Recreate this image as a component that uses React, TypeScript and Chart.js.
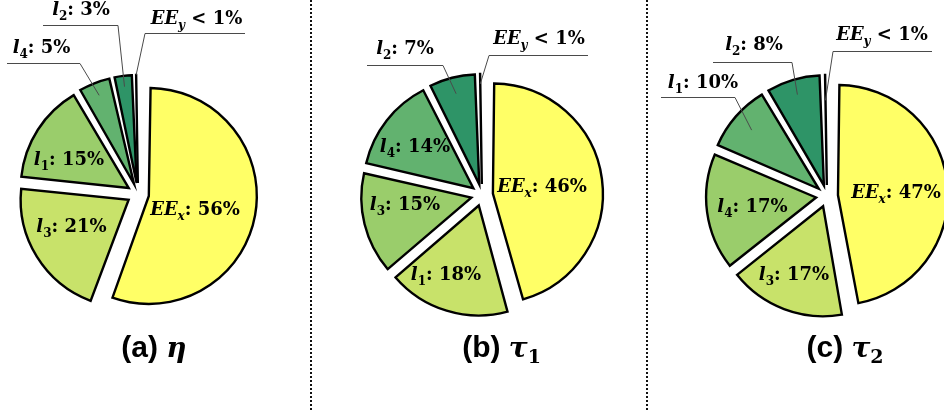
import React, { useEffect, useRef } from 'react';
import { Chart, registerables } from 'chart.js';

Chart.register(...registerables);

// ---------- data ----------
const etaNames = ['EE_x', 'l_3', 'l_1', 'l_4', 'l_2', 'EE_y'];
const etaValues = [56, 21, 15, 5, 3, 0.5];

const tau1Names = ['EE_x', 'l_1', 'l_3', 'l_4', 'l_2', 'EE_y'];
const tau1Values = [46, 18, 15, 14, 7, 0.5];

const tau2Names = ['EE_x', 'l_3', 'l_4', 'l_1', 'l_2', 'EE_y'];
const tau2Values = [47, 17, 17, 10, 8, 0.5];

const captionPrefix = ['(a) ', '(b) ', '(c) '];
const captionSymbol = ['η', 'τ', 'τ'];
const captionSub = ['', '1', '2'];

// ---------- styles / layout ----------
const W = 944;
const H = 410;
const sliceColors = ['#FFFF66', '#C8E26A', '#9ACD6B', '#62B26F', '#2E9467', '#050505'];
const EXPLODE = 11; // px translation of each slice
const SERIF = "'DejaVu Serif', serif";
const SANS = "'Liberation Sans', Arial, sans-serif";
const separatorsX = [311, 647];

type LabelSpec = {
  i: number; dx: number; dy: number;
  ux?: [number, number]; uy?: number; from?: 'left' | 'right'; frac?: number;
};

type Panel = {
  names: string[]; values: number[]; cx: number; cy: number; r: number;
  capX: number; labels: LabelSpec[];
};

const panels: Panel[] = [
  {
    names: etaNames, values: etaValues, cx: 138, cy: 194, r: 108, capX: 154,
    labels: [
      { i: 0, dx: 57, dy: 21 },
      { i: 1, dx: -66.5, dy: 38 },
      { i: 2, dx: -69, dy: -29 },
      { i: 3, dx: -96.5, dy: -141, ux: [-131, -58], uy: -130.5, from: 'right', frac: 0.88 },
      { i: 4, dx: -57, dy: -179, ux: [-95, -20], uy: -168.5, from: 'right', frac: 0.9 },
      { i: 5, dx: 58.5, dy: -170, ux: [7, 107], uy: -160.5, from: 'left', frac: 1.0 },
    ],
  },
  {
    names: tau1Names, values: tau1Values, cx: 482, cy: 195, r: 110, capX: 501.5,
    labels: [
      { i: 0, dx: 60, dy: -3 },
      { i: 1, dx: -36, dy: 85 },
      { i: 2, dx: -77, dy: 15 },
      { i: 3, dx: -67, dy: -43 },
      { i: 4, dx: -77, dy: -141, ux: [-115, -39], uy: -129.5, from: 'right', frac: 0.85 },
      { i: 5, dx: 57, dy: -151, ux: [7, 106], uy: -139.5, from: 'left', frac: 0.91 },
    ],
  },
  {
    names: tau2Names, values: tau2Values, cx: 827, cy: 196, r: 110, capX: 845,
    labels: [
      { i: 0, dx: 69, dy: 2 },
      { i: 1, dx: -33, dy: 84 },
      { i: 2, dx: -74.5, dy: 16 },
      { i: 3, dx: -124, dy: -108.5, ux: [-166, -92], uy: -98.5, from: 'right', frac: 0.81 },
      { i: 4, dx: -73, dy: -146, ux: [-114, -35], uy: -133.5, from: 'right', frac: 0.86 },
      { i: 5, dx: 55, dy: -156, ux: [6, 105], uy: -144.5, from: 'left', frac: 0.77 },
    ],
  },
];

type Part = { t: string; font: string; dy?: number };

function drawRich(ctx: CanvasRenderingContext2D, parts: Part[], cx: number, baseline: number) {
  let w = 0;
  for (const p of parts) { ctx.font = p.font; w += ctx.measureText(p.t).width; }
  let x = cx - w / 2;
  ctx.textAlign = 'left';
  ctx.textBaseline = 'alphabetic';
  for (const p of parts) {
    ctx.font = p.font;
    ctx.fillText(p.t, x, baseline + (p.dy || 0));
    x += ctx.measureText(p.t).width;
  }
}

function labelParts(name: string, pct: number): Part[] {
  const [base, sub] = name.split('_');
  const isDigit = /^[0-9]+$/.test(sub);
  const rest = pct < 1 ? ' < 1%' : `: ${Math.round(pct)}%`;
  return [
    { t: base, font: `italic bold 18px ${SERIF}` },
    { t: sub, font: `${isDigit ? '' : 'italic '}bold 12px ${SERIF}`, dy: 5 },
    { t: rest, font: `bold 18px ${SERIF}` },
  ];
}

function makeOverlay(panel: Panel, idx: number) {
  return {
    id: 'overlay' + idx,
    beforeDatasetDraw(chart: any) {
      // keep each exploded slice at the same radius
      const meta = chart.getDatasetMeta(0);
      for (const el of meta.data as any[]) {
        const circ = el.circumference;
        const fix = 1 - Math.sin(Math.min(Math.PI, circ || 0));
        el.outerRadius = panel.r - EXPLODE * fix;
      }
    },
    afterDatasetsDraw(chart: any) {
      const ctx: CanvasRenderingContext2D = chart.ctx;
      const meta = chart.getDatasetMeta(0);
      const arcs = meta.data as any[];
      const cx = arcs[0].x;
      const cy = arcs[0].y;
      const total = panel.values.reduce((a, b) => a + b, 0);
      ctx.save();
      ctx.fillStyle = '#000';
      for (const L of panel.labels) {
        const pct = (panel.values[L.i] / total) * 100;
        drawRich(ctx, labelParts(panel.names[L.i], pct), cx + L.dx, cy + L.dy);
        if (L.ux && L.uy !== undefined) {
          const arc = arcs[L.i];
          const mid = (arc.startAngle + arc.endAngle) / 2;
          const rr = EXPLODE + (L.frac || 0.9) * panel.r;
          const ex = cx + Math.cos(mid) * rr;
          const ey = cy + Math.sin(mid) * rr;
          const sx = cx + (L.from === 'left' ? L.ux[0] : L.ux[1]);
          const sy = cy + L.uy;
          ctx.strokeStyle = '#4a4a4a';
          ctx.lineWidth = 1;
          ctx.beginPath();
          ctx.moveTo(cx + L.ux[0], sy);
          ctx.lineTo(cx + L.ux[1], sy);
          ctx.moveTo(sx, sy);
          ctx.lineTo(ex, ey);
          ctx.stroke();
        }
      }
      // caption
      const prefix = captionPrefix[idx];
      const parts: Part[] = [
        { t: prefix, font: `bold 30px ${SANS}` },
        { t: captionSymbol[idx], font: `italic bold 28px ${SERIF}` },
      ];
      if (captionSub[idx]) parts.push({ t: captionSub[idx], font: `bold 19px ${SERIF}`, dy: 6 });
      drawRich(ctx, parts, panel.capX, 357);
      // separators
      if (idx === 0) {
        ctx.strokeStyle = '#111';
        ctx.lineWidth = 2;
        ctx.setLineDash([2, 2]);
        for (const x of separatorsX) {
          ctx.beginPath();
          ctx.moveTo(x, 0);
          ctx.lineTo(x, H);
          ctx.stroke();
        }
        ctx.setLineDash([]);
      }
      ctx.restore();
    },
  };
}

function PieCanvas({ panel, idx }: { panel: Panel; idx: number }) {
  const ref = useRef<HTMLCanvasElement | null>(null);
  useEffect(() => {
    if (!ref.current) return;
    const half = 100;
    const chart = new Chart(ref.current, {
      type: 'pie',
      data: {
        labels: panel.names,
        datasets: [
          {
            data: panel.values,
            backgroundColor: sliceColors,
            borderColor: '#000',
            borderWidth: 2.4,
            borderJoinStyle: 'miter',
            offset: EXPLODE * 4,
            clip: false,
          } as any,
        ],
      },
      options: {
        responsive: false,
        animation: false,
        events: [],
        radius: panel.r,
        layout: {
          padding: {
            left: panel.cx - half,
            right: W - (panel.cx + half),
            top: panel.cy - half,
            bottom: H - (panel.cy + half),
          },
        },
        plugins: { legend: { display: false }, tooltip: { enabled: false } },
      } as any,
      plugins: [makeOverlay(panel, idx)],
    });
    return () => chart.destroy();
  }, [panel, idx]);
  return (
    <canvas
      ref={ref}
      width={W}
      height={H}
      style={{ position: 'absolute', left: 0, top: 0, width: W, height: H }}
    />
  );
}

export default function App() {
  return (
    <div style={{ position: 'fixed', left: 0, top: 0, width: W, height: H, background: '#fff', overflow: 'hidden' }}>
      {panels.map((p, i) => (
        <PieCanvas key={i} panel={p} idx={i} />
      ))}
    </div>
  );
}
